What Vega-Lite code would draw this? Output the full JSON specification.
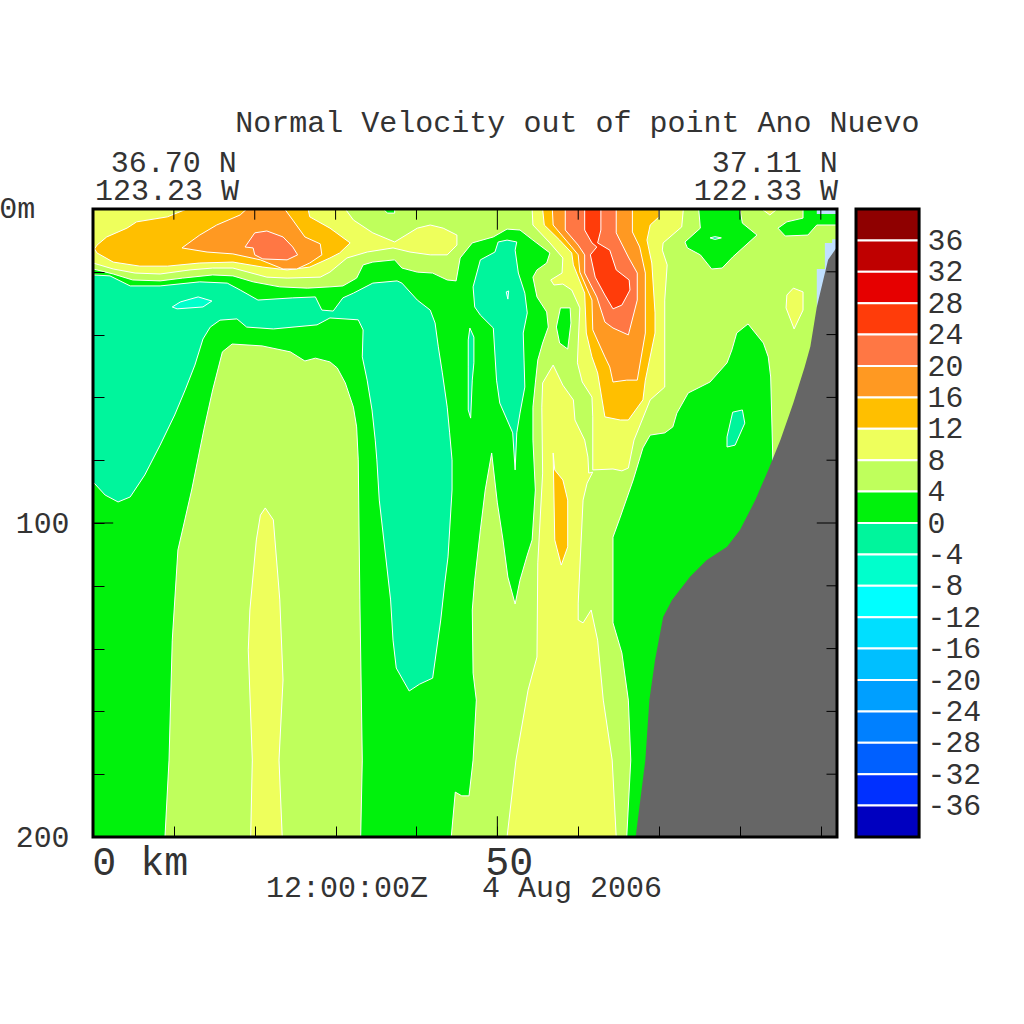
{"$schema":"https://vega.github.io/schema/vega-lite/v6.json","width":744,"height":628,"autosize":"none","padding":{"left":93,"top":209,"right":187,"bottom":187},"background":"white","config":{"view":{"stroke":null}},
"datasets":{
"contours":[
{"p":"base","b":"0","km":[0,92,92,0],"d":[0,0,200,200]},
{"p":"sgA","b":"-4","km":[0,2.1,4.6,8.3,13.2,16.6,18.2,20.4,24.7,27.5,28.3,29.7,30.9,32.2,34.6,37.6,38.2,40.1,41.7,42.3,42.7,43.2,43.8,44.1,44.4,44.4,43.9,43.5,43.0,42.0,40.4,39.1,37.5,37.1,36.8,36.1,35.4,35.1,34.9,34.5,33.9,33.3,33.4,32.8,29.3,27.7,22.3,19.0,17.8,15.7,14.5,13.6,12.6,11.4,10.1,8.3,6.4,4.6,3.1,1.5,0],"d":[21.0,21.3,24.5,24.5,23.2,23.6,25.8,29.0,28.3,28.0,32.2,32.5,28.3,26.8,23.6,22.9,23.6,29.0,32.2,36.3,43.9,52.2,63.1,71.3,79.9,89.5,110.8,119.1,130.9,149.4,151.3,153.5,146.2,137.3,124.5,108.6,92.7,79.9,73.6,64.0,54.5,47.1,38.5,35.3,34.7,36.9,38.2,37.6,35.0,35.4,37.6,41.4,49.7,57.6,65.6,75.2,84.7,91.7,93.3,91.1,86.9]},
{"p":"cyA","b":"-8","km":[9.8,10.8,13.0,14.7,13.6,10.4],"d":[31.2,29.6,28.0,29.3,31.2,31.8]},
{"p":"sgB","b":"-4","km":[50.1,51.2,52.4,52.2,52.6,53.4,53.7,53.2,53.3,53.4,52.8,52.4,52.2,51.9,50.3,49.9,49.5,47.9,47.2,47.0,47.9,49.7],"d":[10.5,9.9,10.5,13.1,20.4,26.8,33.1,39.5,48.1,56.7,65.0,71.3,83.1,71.3,61.8,54.5,37.9,33.8,31.2,24.8,16.2,13.7]},
{"p":"cyB","b":"-8","km":[51.1,51.4,51.3],"d":[26.4,26.1,28.7]},
{"p":"sgC","b":"-4","km":[46.6,47.1,47.1,46.9,46.7,46.4,46.4,46.4],"d":[37.9,40.8,49.0,54.5,66.6,64.0,50.3,41.7]},
{"p":"lgMain","b":"4","km":[0,92,92,84.1,83.8,83.5,82.9,81.0,79.6,79.0,78.4,76.3,73.6,72.2,71.7,70.7,68.9,68.0,66.8,65.2,64.3,64.3,65.4,66.2,66.5,66.0,44.3,44.8,45.6,46.5,47.0,47.4,47.0,46.9,47.2,47.9,48.5,49.3,50.0,50.7,51.3,52.2,52.8,53.7,54.3,54.7,54.4,54.4,54.7,55.0,55.6,56.3,56.1,54.9,54.4,54.9,56.1,56.5,54.4,52.8,51.2,49.5,46.9,45.4,44.9,43.8,42.0,40.1,38.2,37.3,34.6,33.4,32.6,30.9,29.3,26.5,23.1,19.8,17.3,14.8,11.1,8.3,4.9,2.5,0],"d":[0,0,83.1,83.1,53.5,47.1,42.7,36.6,39.5,44.9,49.0,55.1,58.6,65.0,69.4,71.3,72.0,76.1,86.3,98.1,104.5,131.8,141.4,156.4,175.5,200,200,185.7,186.9,186.9,175.5,156.4,147.8,127.7,118.2,102.2,89.5,77.7,93.6,105.4,117.2,125.8,118.2,110.2,105.4,89.5,73.6,63.1,55.4,48.1,42.7,37.6,32.8,28.0,21.7,19.4,17.2,14.0,9.9,6.7,6.4,8.9,10.8,15.6,22.9,22.6,20.4,20.1,18.8,16.2,16.9,17.8,22.0,24.5,24.8,25.2,24.8,23.2,21.3,21.0,22.0,22.9,22.6,20.7,19.1]},
{"p":"lgCol","b":"4","km":[8.9,9.4,9.8,10.5,12.2,13.7,14.8,16.0,17.2,20.9,24.4,26.2,27.5,29.3,30.2,31.2,32.2,32.6,32.8,33.0,33.3,33.1],"d":[200,175.5,137.3,108.6,89.5,70.4,57.6,45.5,43.0,43.6,45.5,48.4,47.5,48.7,50.6,55.4,63.1,69.4,79.9,124.5,175.5,200]},
{"p":"gBlob","b":"0","km":[57.8,59.0,59.1,58.7,57.7,57.3],"d":[31.5,31.5,36.3,44.6,42.7,37.6]},
{"p":"gTop","b":"0","km":[35.9,37.3,37.3,36.4],"d":[0,0,1.3,1.3]},
{"p":"gPatch","b":"0","km":[74.9,75.1,73.2,73.5,75.1,76.5,77.8,79.1,82.1,80.3,80.0],"d":[0,6.1,10.5,12.4,14.6,19.1,18.8,15.3,8.3,4.5,0]},
{"p":"gPatch2","b":"0","km":[84.7,85.8,87.8,87.8,92,92,89.5,88.4,85.6],"d":[6.1,4.1,2.9,0,0,5.1,5.1,8.3,8.6]},
{"p":"sgP","b":"-4","km":[76.3,76.9,77.7,76.9],"d":[9.2,8.8,9.2,9.7]},
{"p":"sgD","b":"-4","km":[79.1,80.3,80.6,79.4,78.4,78.4],"d":[64.7,64.0,68.2,75.2,75.8,72.6]},
{"p":"y1","b":"8","km":[0,31.2,32.2,34.6,37.3,40.1,41.7,43.3,45.0,45.0,43.8,41.7,39.2,37.1,33.9,31.4,29.3,28.1,24.0,21.5,17.3,14.8,12.0,8.3,5.2,2.5,0],"d":[0,0,3.5,7.6,10.5,6.1,5.1,6.1,8.3,11.5,14.6,14.6,13.7,12.4,13.7,15.6,20.1,21.7,22.0,21.7,18.8,18.8,19.4,20.7,20.4,19.1,17.2]},
{"p":"yCol","b":"8","km":[19.5,19.7,19.2,19.4,20.2,20.7,21.3,22.3,23.1,23.5,23.0,23.4],"d":[200,175.5,140.4,127.7,105.4,97.5,95.2,99.0,124.5,150.0,175.5,200]},
{"p":"y2","b":"8","km":[54.3,54.4,56.5,58.1,58.0,56.6,57.0,58.1,59.2,60.2,60.0,59.9,60.5,61.7,61.8,61.8,64.3,65.4,66.2,66.9,68.9,70.7,70.7,71.0,70.4,70.5,72.8,73.0],"d":[0,5.1,10.8,15.6,20.4,22.6,24.2,23.9,25.8,31.5,42.7,49.0,55.1,59.9,66.2,83.1,82.8,83.4,82.5,73.6,60.8,56.7,29.0,17.8,13.1,10.8,5.7,0]},
{"p":"y3","b":"8","km":[56.9,55.6,55.5,55.6,55.0,54.9,53.8,52.3,51.2,64.7,64.2,63.1,62.4,61.6,60.6,60.0,60.0,60.6,61.1,61.8,61.3,61.2,60.8,59.6,59.4,58.1],"d":[49.7,55.4,63.1,84.1,112.7,142.7,153.2,175.5,200,200,175.5,156.4,137.3,127.7,131.8,130.9,125.5,92.7,87.3,83.8,84.1,79.0,73.6,67.2,60.8,56.1]},
{"p":"yTop","b":"8","km":[82.7,84.6,83.7],"d":[0,0,1.9]},
{"p":"yBlob","b":"8","km":[86.6,87.8,87.8,86.7,85.7,85.8],"d":[25.2,26.4,32.2,38.2,31.5,27.4]},
{"p":"o1","b":"12","km":[0.5,1.7,4.2,5.4,9.2,11.6,26.6,26.8,29.3,31.8,30.5,29.3,26.8,24.0,21.0,17.3,13.2,9.2,5.8,2.5,0.5,0.2],"d":[11.5,8.9,6.1,4.1,2.5,0,0,2.5,6.1,10.8,14.0,15.6,18.5,19.4,18.5,16.9,17.2,18.2,18.2,16.9,14.0,12.7]},
{"p":"oo1","b":"16","km":[11.0,13.2,15.3,18.2,19.0,23.7,24.7,26.2,28.1,28.3,26.8,25.2,23.5,20.7,17.3,14.1],"d":[12.4,8.3,5.1,1.9,0,0,3.5,8.9,11.1,14.6,17.2,19.1,19.1,16.2,14.3,13.7]},
{"p":"s1","b":"20","km":[18.8,20.0,21.5,23.5,24.7,25.3,24.0,21.0,20.0,19.8],"d":[12.1,7.6,7.0,8.9,12.1,14.6,16.2,15.9,14.6,12.4]},
{"p":"o2","b":"12","km":[55.6,55.8,57.7,59.2,59.4,60.8,61.0,61.7,62.4,63.3,65.2,66.2,68.0,68.3,69.5,69.5,69.1,68.5,68.9,70.0,70.0],"d":[0,5.1,9.9,14.0,17.8,26.8,39.5,47.1,52.2,66.2,67.2,67.2,60.8,54.5,39.5,33.1,17.2,9.9,5.1,2.5,0]},
{"p":"oSliver","b":"12","km":[56.9,57.1,58.1,58.7,58.7,57.9,57.1],"d":[77.7,83.1,86.3,92.7,107.6,113.4,105.4]},
{"p":"oo2","b":"16","km":[56.8,56.9,59.2,60.0,60.2,61.7,61.8,63.3,63.9,64.3,66.0,67.3,68.3,68.3,67.6,66.7,66.7],"d":[0,5.1,12.1,14.6,20.1,29.0,38.5,47.1,50.3,55.1,54.5,54.5,39.5,20.4,12.1,7.3,0]},
{"p":"s2","b":"20","km":[58.4,58.4,60.0,60.8,60.8,62.3,63.3,64.3,66.2,67.3,67.3,66.2,64.7,64.7],"d":[0,6.7,11.5,14.6,20.4,28.0,36.0,37.9,40.1,29.0,20.4,15.3,7.6,0]},
{"p":"r","b":"24","km":[60.8,60.8,61.7,62.3,61.5,62.1,63.3,64.3,65.4,66.4,66.3,64.7,63.9,62.4,62.8,62.8],"d":[0,6.7,10.8,12.1,14.6,21.7,27.4,31.8,30.6,25.8,22.6,19.4,13.1,10.8,6.7,0]}
],
"land":[
{"p":"shelfTop","b":"shelf","km":[89.5,92,92,89.5],"d":[0,0,1.6,1.6]},
{"p":"shelf","b":"shelf","km":[89.5,90.5,90.5,91.4,91.4,92,92,89.5],"d":[19.1,19.1,10.8,10.8,9.6,9.6,16.2,35.3]},
{"p":"coast","b":"land","km":[92,90.9,90.3,89.5,88.7,88.0,86.6,85.0,83.5,81.9,80.0,78.4,75.9,73.8,71.6,70.5,69.5,68.8,68.3,67.1,92],"d":[12.1,16.2,22.6,31.2,43.9,50.3,61.8,73.6,83.1,92.7,102.2,107.6,111.8,117.2,124.5,129.9,143.6,156.4,175.5,200,200]}
],
"colorbar":[{"lo":36,"hi":40,"b":"36"},{"lo":32,"hi":36,"b":"32"},{"lo":28,"hi":32,"b":"28"},{"lo":24,"hi":28,"b":"24"},{"lo":20,"hi":24,"b":"20"},{"lo":16,"hi":20,"b":"16"},{"lo":12,"hi":16,"b":"12"},{"lo":8,"hi":12,"b":"8"},{"lo":4,"hi":8,"b":"4"},{"lo":0,"hi":4,"b":"0"},{"lo":-4,"hi":0,"b":"-4"},{"lo":-8,"hi":-4,"b":"-8"},{"lo":-12,"hi":-8,"b":"-12"},{"lo":-16,"hi":-12,"b":"-16"},{"lo":-20,"hi":-16,"b":"-20"},{"lo":-24,"hi":-20,"b":"-24"},{"lo":-28,"hi":-24,"b":"-28"},{"lo":-32,"hi":-28,"b":"-32"},{"lo":-36,"hi":-32,"b":"-36"},{"lo":-40,"hi":-36,"b":"-40"}],
"xticks":[{"km":10},{"km":20},{"km":30},{"km":40},{"km":60},{"km":70},{"km":80},{"km":90}],
"yticks":[{"depth":20},{"depth":40},{"depth":60},{"depth":80},{"depth":120},{"depth":140},{"depth":160},{"depth":180}],
"labels":[
{"label":"Normal Velocity out of point Ano Nuevo","km":17.6,"depth":-24.5},
{"label":"36.70 N","km":2.2,"depth":-11.8},
{"label":"123.23 W","km":0.25,"depth":-2.9},
{"label":"37.11 N","km":76.5,"depth":-11.8},
{"label":"122.33 W","km":74.3,"depth":-2.9},
{"label":"0m","km":-11.6,"depth":2.9},
{"label":"12:00:00Z\u00a0\u00a0\u00a04 Aug 2006","km":21.4,"depth":219.1}
],
"biglabels":[{"label":"0 km","km":-0.1,"depth":212.1},{"label":"50","km":48.5,"depth":212.1}]
},
"layer":[
{"resolve":{"axis":{"x":"independent","y":"independent"}},"layer":[
{"data":{"name":"contours"},"transform":[{"flatten":["km","d"]}],"mark":{"type":"line","stroke":"white","strokeWidth":1,"interpolate":"linear-closed"},
"encoding":{"x":{"field":"km","type":"quantitative","scale":{"domain":[0,92],"nice":false,"zero":false},"axis":{"orient":"bottom","values":[10,20,30,40,50,60,70,80,90],"tickSize":-11,"tickColor":"black","labels":false,"domain":false,"grid":false,"title":null,"zindex":1}},
"y":{"field":"d","type":"quantitative","scale":{"domain":[200,0],"nice":false,"zero":false},"axis":{"orient":"left","values":[20,40,60,80,100,120,140,160,180,200],"tickSize":-11,"tickColor":"black","domain":false,"grid":false,"title":null,"zindex":1,"labelExpr":"datum.value==100||datum.value==200?''+datum.value:''","labelFont":"Liberation Mono","labelFontSize":29.8,"labelColor":"#333","labelPadding":35,"labelBaseline":"middle","labelOverlap":false,"labelFlush":false}},
"detail":{"field":"p"},"order":{"value":null},
"fill":{"field":"b","type":"nominal","legend":null,"scale":{"domain":["36","32","28","24","20","16","12","8","4","0","-4","-8","-12","-16","-20","-24","-28","-32","-36","-40","shelf","land"],"range":["#8f0000","#bf0000","#e60000","#ff3c0a","#ff7744","#ff9922","#ffbf00","#eeff5c","#bfff5c","#00f20c","#00f59c","#00ffcc","#00ffff","#00dfff","#00bfff","#009fff","#0080ff","#0060ff","#0030ff","#0000c0","#c0e0ff","#666666"]}}}},
{"data":{"name":"land"},"transform":[{"flatten":["km","d"]}],"mark":{"type":"line","strokeWidth":0,"stroke":null,"interpolate":"linear-closed"},
"encoding":{"x":{"field":"km","type":"quantitative","axis":null},"y":{"field":"d","type":"quantitative","axis":null},"detail":{"field":"p"},"order":{"value":null},
"fill":{"field":"b","type":"nominal","legend":null,"scale":{"domain":["36","32","28","24","20","16","12","8","4","0","-4","-8","-12","-16","-20","-24","-28","-32","-36","-40","shelf","land"],"range":["#8f0000","#bf0000","#e60000","#ff3c0a","#ff7744","#ff9922","#ffbf00","#eeff5c","#bfff5c","#00f20c","#00f59c","#00ffcc","#00ffff","#00dfff","#00bfff","#009fff","#0080ff","#0060ff","#0030ff","#0000c0","#c0e0ff","#666666"]}}}},
{"data":{"name":"xticks"},"mark":{"type":"rule","color":"black","strokeWidth":1},"encoding":{"x":{"field":"km","type":"quantitative","axis":null},"y":{"datum":0,"axis":null},"y2":{"datum":3.4}}},
{"data":{"values":[{"km":50}]},"mark":{"type":"rule","color":"black","strokeWidth":1},"encoding":{"x":{"field":"km","type":"quantitative","axis":null},"y":{"datum":0,"axis":null},"y2":{"datum":6.6}}},
{"data":{"values":[{"km":50}]},"mark":{"type":"rule","color":"black","strokeWidth":1},"encoding":{"x":{"field":"km","type":"quantitative","axis":null},"y":{"datum":200,"axis":null},"y2":{"datum":193.4}}},
{"data":{"name":"yticks"},"mark":{"type":"rule","color":"black","strokeWidth":1},"encoding":{"y":{"field":"depth","type":"quantitative","axis":null},"x":{"datum":92,"axis":null},"x2":{"datum":90.7}}},
{"data":{"values":[{"depth":100}]},"mark":{"type":"rule","color":"black","strokeWidth":1},"encoding":{"y":{"field":"depth","type":"quantitative","axis":null},"x":{"datum":92,"axis":null},"x2":{"datum":89.5}}},
{"data":{"values":[{"depth":100}]},"mark":{"type":"rule","color":"black","strokeWidth":1},"encoding":{"y":{"field":"depth","type":"quantitative","axis":null},"x":{"datum":0,"axis":null},"x2":{"datum":2.5}}},
{"data":{"values":[{"frame":"plot"}]},"mark":{"type":"rect","filled":false,"stroke":"black","strokeWidth":3},"encoding":{"x":{"datum":0,"axis":null},"x2":{"datum":92},"y":{"datum":0,"axis":null},"y2":{"datum":200}}},
{"data":{"name":"labels"},"mark":{"type":"text","font":"Liberation Mono","fontSize":30,"align":"left","baseline":"alphabetic","color":"#333"},"encoding":{"x":{"field":"km","type":"quantitative","axis":null},"y":{"field":"depth","type":"quantitative","axis":null},"text":{"field":"label"}}},
{"data":{"name":"biglabels"},"mark":{"type":"text","font":"Liberation Mono","fontSize":40,"align":"left","baseline":"alphabetic","color":"#333"},"encoding":{"x":{"field":"km","type":"quantitative","axis":null},"y":{"field":"depth","type":"quantitative","axis":null},"text":{"field":"label"}}}
]},
{"resolve":{"axis":{"x":"independent","y":"independent"}},"layer":[
{"data":{"name":"colorbar"},"mark":{"type":"rect","stroke":"white","strokeWidth":2},
"encoding":{"x":{"datum":94.35,"axis":null},"x2":{"datum":102.15},
"y":{"field":"lo","type":"quantitative","scale":{"domain":[-40,40],"nice":false,"zero":false},"axis":{"orient":"right","values":[-36,-32,-28,-24,-20,-16,-12,-8,-4,0,4,8,12,16,20,24,28,32,36],"labelExpr":"''+datum.value","offset":90,"ticks":false,"domain":false,"grid":false,"title":null,"labelPadding":0,"labelAlign":"left","labelBaseline":"middle","labelFont":"Liberation Mono","labelFontSize":29.8,"labelColor":"#333","labelOverlap":false,"labelFlush":false}},
"y2":{"field":"hi"},
"fill":{"field":"b","type":"nominal","legend":null,"scale":{"domain":["36","32","28","24","20","16","12","8","4","0","-4","-8","-12","-16","-20","-24","-28","-32","-36","-40","shelf","land"],"range":["#8f0000","#bf0000","#e60000","#ff3c0a","#ff7744","#ff9922","#ffbf00","#eeff5c","#bfff5c","#00f20c","#00f59c","#00ffcc","#00ffff","#00dfff","#00bfff","#009fff","#0080ff","#0060ff","#0030ff","#0000c0","#c0e0ff","#666666"]}}}},
{"data":{"values":[{"frame":"colorbar"}]},"mark":{"type":"rect","filled":false,"stroke":"black","strokeWidth":3},"encoding":{"x":{"datum":94.35,"axis":null},"x2":{"datum":102.15},"y":{"datum":-40,"axis":null},"y2":{"datum":40}}}
]}
],
"resolve":{"scale":{"y":"independent"},"axis":{"x":"independent","y":"independent"}}
}
